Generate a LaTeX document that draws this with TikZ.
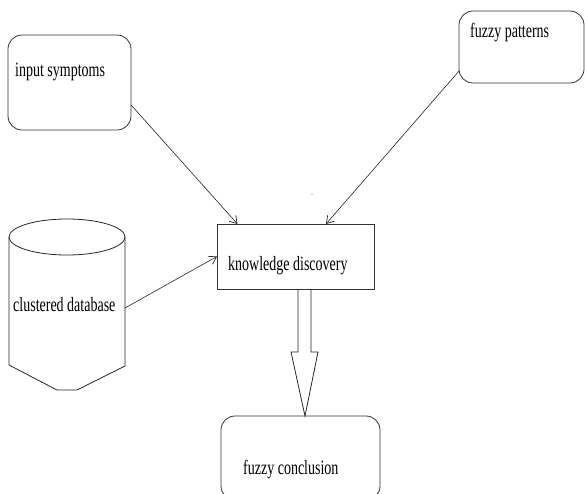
\documentclass[tikz,border=0pt]{standalone}
\usepackage{fontspec}
\setmainfont{Liberation Serif}
\usetikzlibrary{arrows.meta,calc}

\tikzset{
  box/.style={draw=black!80, line width=0.8pt, rounded corners=14pt,
              inner sep=0pt, outer sep=0pt},
  plainbox/.style={draw=black!80, line width=0.8pt, inner sep=0pt, outer sep=0pt},
  label/.style={anchor=base west, inner sep=0pt, font=\fontsize{14}{16}\selectfont},
  link/.style={draw=black!85, line width=0.6pt,
               -{Straight Barb[length=7pt,width=9pt,line width=0.7pt]}},
  hollow/.style={draw=black!85, line width=0.8pt, line join=miter},
}
\newcommand{\tall}[1]{\scalebox{1}[1.45]{#1}}

\begin{document}
\begin{tikzpicture}[x=1pt,y=-1pt]
  \useasboundingbox (0,0) rectangle (585,493);
  \clip (0,0) rectangle (585,493);

  % source boxes
  \node[box, minimum width=123pt, minimum height=95pt] (symp) at (69.5,82.5) {};
  \node[label] (symptxt) at (15,76) {\tall{input symptoms}};

  \node[box, minimum width=125pt, minimum height=72pt] (pat) at (521.5,47) {};
  \node[label] (pattxt) at (470,37) {\tall{fuzzy patterns}};

  % database cylinder
  \draw[hollow] (67,237) ellipse [x radius=58, y radius=18];
  \draw[hollow] (9,237) -- (9,365) -- (57,390) -- (77,390) -- (125,366) -- (125,237);
  \node[label] (dbtxt) at (13,311) {\tall{clustered database}};
  \coordinate (db) at (125,308);

  % central process
  \node[plainbox, minimum width=157pt, minimum height=65pt] (kd) at (295.5,256.5) {};
  \node[label] (kdtxt) at (228,270) {\tall{knowledge discovery}};

  % result
  \node[box, minimum width=159pt, minimum height=84pt] (conc) at (300.5,458) {};
  \node[label] (conctxt) at (243,474) {\tall{fuzzy conclusion}};

  % inputs into knowledge discovery
  \draw[link] (symp.-20) -- ([xshift=-58pt]kd.north);
  \draw[link] ([yshift=-24pt]pat.west) -- ([xshift=30.5pt]kd.north);
  \draw[link] (db) -- (kd.west);

  % hollow block arrow down to the conclusion
  \coordinate (shafttop) at ([xshift=9pt]kd.south);
  \coordinate (tip) at ([xshift=4.5pt]conc.north);
  \draw[hollow] ($(shafttop)+(-6.5,0)$) -- ($(shafttop)+(-6.5,63)$)
    -- ($(shafttop)+(-13.5,63)$) -- (tip) -- ($(shafttop)+(13.5,63)$)
    -- ($(shafttop)+(6.5,63)$) -- ($(shafttop)+(6.5,0)$);

  % small speck
  \fill[black!55] (312,194) circle (0.7);
\end{tikzpicture}
\end{document}
